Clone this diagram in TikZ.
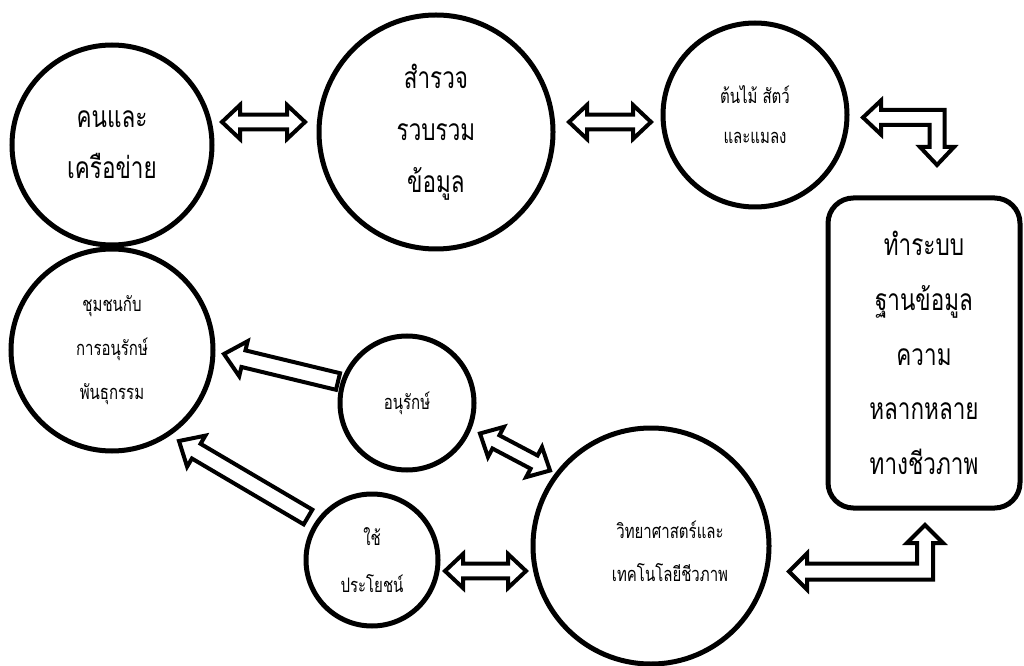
\documentclass[tikz,border=0pt]{standalone}
\usepackage{fontspec}
\newfontfamily\thai[Script=Thai,FakeStretch=0.75]{Loma}
\usetikzlibrary{calc}
\def\arrL{13.5pt}\def\arrH{12.75pt}\def\arrW{5.6pt}
\def\sarL{15pt}\def\sarH{13.5pt}\def\sarW{6.4pt}
\newcommand{\dblarr}[2]{%
 \draw[blk] (#1)
  -- ($(#1)!\arrL!(#2)!\arrH!90:(#2)$)
  -- ($(#1)!\arrL!(#2)!\arrW!90:(#2)$)
  -- ($(#2)!\arrL!(#1)!\arrW!-90:(#1)$)
  -- ($(#2)!\arrL!(#1)!\arrH!-90:(#1)$)
  -- (#2)
  -- ($(#2)!\arrL!(#1)!\arrH!90:(#1)$)
  -- ($(#2)!\arrL!(#1)!\arrW!90:(#1)$)
  -- ($(#1)!\arrL!(#2)!\arrW!-90:(#2)$)
  -- ($(#1)!\arrL!(#2)!\arrH!-90:(#2)$)
  -- cycle;}
\newcommand{\sglarr}[2]{%
 \draw[blk] (#1)
  -- ($(#1)!\sarL!(#2)!\sarH!90:(#2)$)
  -- ($(#1)!\sarL!(#2)!\sarW!90:(#2)$)
  -- ($(#2)!\sarW!-90:(#1)$)
  -- ($(#2)!\sarW!90:(#1)$)
  -- ($(#1)!\sarL!(#2)!\sarW!-90:(#2)$)
  -- ($(#1)!\sarL!(#2)!\sarH!-90:(#2)$)
  -- cycle;}
\begin{document}
\begin{tikzpicture}[x=0.75pt,y=-0.75pt,
  bub/.style={circle,draw=black,line width=3.75pt,fill=white,inner sep=0pt,align=center},
  dbbox/.style={rectangle,rounded corners=19pt,draw=black,line width=3.75pt,fill=white,
     minimum width=144pt,minimum height=232.5pt,inner sep=0pt,align=center},
  bigtxt/.style={font=\thai\fontsize{22.5}{39}\selectfont},
  boxtxt/.style={font=\thai\fontsize{22.5}{41}\selectfont},
  smalltxt/.style={font=\thai\fontsize{15}{32}\selectfont},
  plain/.style={inner sep=0pt,align=center},
  blk/.style={draw=black,fill=white,line width=3pt,line join=miter}
]
\useasboundingbox (0,0) rectangle (1024,666);

% nodes
\node[bub,minimum size=150pt,font=\thai\fontsize{22.5}{38}\selectfont] (kon) at (112,145) {คนและ\\เครือข่าย};
\node[bub,bigtxt,minimum size=175.5pt] (survey) at (436,132) {สำรวจ\\รวบรวม\\ข้อมูล};
\node[bub,minimum size=138pt,font=\thai\fontsize{15}{30}\selectfont] (tree) at (755,115) {ต้นไม้ สัตว์\\และแมลง};
\node[dbbox,boxtxt] (db) at (924,353) {ทำระบบ\\ฐานข้อมูล\\ความ\\หลากหลาย\\ทางชีวภาพ};
\node[bub,minimum size=151.5pt,font=\thai\fontsize{15}{33}\selectfont] (comm) at (112,350) {ชุมชนกับ\\การอนุรักษ์\\พันธุกรรม};
\node[bub,smalltxt,minimum size=100.5pt] (cons) at (407,403) {อนุรักษ์};
\node[bub,minimum size=99pt,font=\thai\fontsize{15}{35}\selectfont] (use) at (372,560) {ใช้\\ประโยชน์};
\node[bub,minimum size=177pt] (sci) at (651,546) {};
\node[plain,smalltxt] (scitxt) at (670,551) {วิทยาศาสตร์และ\\เทคโนโลยีชีวภาพ};

% arrow end points
\coordinate (a1) at (222,122); \coordinate (a2) at (305,122);
\coordinate (b1) at (569,122); \coordinate (b2) at (651,122);
\coordinate (e1) at (224,354); \coordinate (e2) at (338,381.5);
\coordinate (f1) at (179,441); \coordinate (f2) at (308,517);
\coordinate (g1) at (480,433.5); \coordinate (g2) at (550,470.5);
\coordinate (h1) at (445,571); \coordinate (h2) at (526,571);

\dblarr{a1}{a2}
\dblarr{b1}{b2}
\sglarr{e1}{e2}
\sglarr{f1}{f2}
\dblarr{g1}{g2}
\dblarr{h1}{h2}

% bent arrow tree -> db
\coordinate (c1) at (863,117.5);
\coordinate (c2) at (937,165);
\draw[blk] (c1) -- (881,100.5) -- (881,110) -- (944.5,110) -- (944.5,147) -- (954,147)
  -- (c2) -- (920,147) -- (929.5,147) -- (929.5,125) -- (881,125) -- (881,134.5) -- cycle;

% bent arrow db -> sci
\coordinate (d1) at (925,525);
\coordinate (d2) at (789,571.5);
\draw[blk] (d1) -- (943,543) -- (933,543) -- (933,579.5) -- (807,579.5) -- (807,589.5)
  -- (d2) -- (807,553.5) -- (807,563.5) -- (917,563.5) -- (917,543) -- (907,543) -- cycle;
\end{tikzpicture}
\end{document}
